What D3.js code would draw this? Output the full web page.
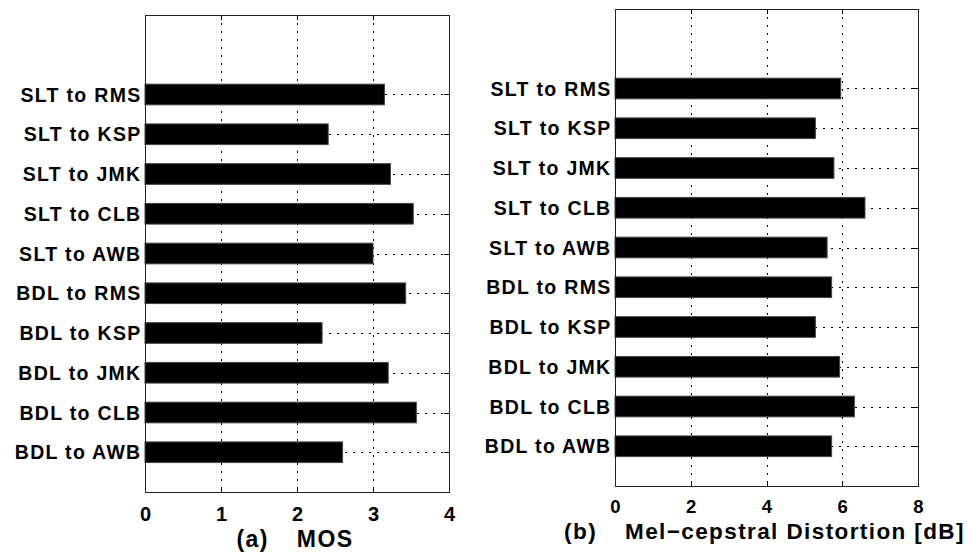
<!DOCTYPE html>
<html>
<head>
<meta charset="utf-8">
<script src="https://cdn.jsdelivr.net/npm/d3@7"></script>
<style>
  html, body { margin: 0; padding: 0; background: #fff; }
  svg { display: block; }
  text { font-family: "Liberation Sans", Arial, Helvetica, sans-serif; font-weight: bold; fill: #000; }
</style>
</head>
<body>
<svg id="chart" width="972" height="552"></svg>
<script>
const categories = ["SLT to RMS", "SLT to KSP", "SLT to JMK", "SLT to CLB", "SLT to AWB",
                    "BDL to RMS", "BDL to KSP", "BDL to JMK", "BDL to CLB", "BDL to AWB"];
const mosValues = [3.15, 2.41, 3.23, 3.53, 3.00, 3.43, 2.33, 3.20, 3.57, 2.60];
const mcdValues = [5.96, 5.29, 5.78, 6.60, 5.60, 5.72, 5.29, 5.93, 6.32, 5.72];
const mosTicks = [0, 1, 2, 3, 4];
const mcdTicks = [0, 2, 4, 6, 8];
const mosTitle = ["(a)", "MOS"];
const mcdTitle = ["(b)", "Mel\u2212cepstral Distortion [dB]"];

const svg = d3.select("#chart");

function drawPanel(p) {
  const x = d3.scaleLinear().domain([p.ticks[0], p.ticks[p.ticks.length - 1]]).range([p.left, p.right]);
  const y = d3.scaleLinear().domain([0, categories.length + 2]).range([p.bottom, p.top]);
  const pos = (d, i) => y(categories.length - i);
  const step = Math.abs(y(1) - y(0));
  const barH = step * 0.52;
  const g = svg.append("g");
  const dash = "2,6";

  // vertical grid lines
  g.selectAll("line.vg").data(p.ticks.slice(1, -1)).join("line")
    .attr("x1", d => Math.round(x(d)) + 0.5).attr("x2", d => Math.round(x(d)) + 0.5)
    .attr("y1", p.top).attr("y2", p.bottom)
    .attr("stroke", "#000").attr("stroke-width", 1).attr("stroke-dasharray", dash);

  // horizontal grid lines
  g.selectAll("line.hg").data(categories).join("line")
    .attr("x1", p.left).attr("x2", p.right)
    .attr("y1", (d, i) => Math.round(pos(d, i)) + 0.5).attr("y2", (d, i) => Math.round(pos(d, i)) + 0.5)
    .attr("stroke", "#000").attr("stroke-width", 1).attr("stroke-dasharray", dash);

  // bars
  g.selectAll("rect.bar").data(p.values).join("rect")
    .attr("x", x(0))
    .attr("y", (d, i) => pos(d, i) - barH / 2)
    .attr("width", d => x(d) - x(0))
    .attr("height", barH)
    .attr("fill", "#000").attr("stroke", "#444").attr("stroke-width", 1);

  // inner tick marks (x)
  const tl = 5;
  g.selectAll("line.xtb").data(p.ticks.slice(1, -1)).join("line")
    .attr("x1", d => Math.round(x(d)) + 0.5).attr("x2", d => Math.round(x(d)) + 0.5)
    .attr("y1", p.bottom).attr("y2", p.bottom - tl).attr("stroke", "#000");
  g.selectAll("line.xtt").data(p.ticks.slice(1, -1)).join("line")
    .attr("x1", d => Math.round(x(d)) + 0.5).attr("x2", d => Math.round(x(d)) + 0.5)
    .attr("y1", p.top).attr("y2", p.top + tl).attr("stroke", "#000");
  // inner tick marks (y, right side)
  g.selectAll("line.ytr").data(categories).join("line")
    .attr("x1", p.right).attr("x2", p.right - tl)
    .attr("y1", (d, i) => Math.round(pos(d, i)) + 0.5).attr("y2", (d, i) => Math.round(pos(d, i)) + 0.5)
    .attr("stroke", "#000");

  // frame
  g.append("rect")
    .attr("x", Math.round(p.left) + 0.5).attr("y", Math.round(p.top) + 0.5)
    .attr("width", Math.round(p.right - p.left)).attr("height", Math.round(p.bottom - p.top))
    .attr("fill", "none").attr("stroke", "#222").attr("stroke-width", 1);

  // category labels
  g.selectAll("text.cat").data(categories).join("text")
    .attr("x", p.left - 3.5)
    .attr("y", (d, i) => pos(d, i))
    .attr("dy", "0.36em")
    .attr("text-anchor", "end")
    .style("font-size", "19.5px")
    .style("letter-spacing", "1.3px")
    .text(d => d);

  // x-axis tick labels
  const ax = d3.axisBottom(x).tickValues(p.ticks).tickSize(0).tickPadding(0).tickFormat(d3.format("d"));
  const axg = g.append("g").attr("transform", `translate(0,${p.bottom})`).call(ax);
  axg.select(".domain").remove();
  axg.selectAll("text")
    .attr("y", p.tickY).attr("dy", 0)
    .style("font-family", "'Liberation Sans', Arial, sans-serif")
    .style("font-weight", "bold")
    .style("font-size", p.tickFont + "px")
    .attr("fill", "#000");

  // title
  const t = g.append("text")
    .attr("x", (p.left + p.right) / 2 - 2)
    .attr("y", p.titleY)
    .attr("text-anchor", "middle")
    .style("font-size", p.titleFont + "px")
    .style("letter-spacing", "1.4px");
  t.append("tspan").text(p.title[0]);
  t.append("tspan").attr("dx", 28).text(p.title[1]);
}

drawPanel({ left: 145, right: 449, top: 15, bottom: 492, ticks: mosTicks, values: mosValues,
            title: mosTitle, titleY: 547, tickFont: 20, tickY: 29, titleFont: 23 });
drawPanel({ left: 615, right: 918, top: 9, bottom: 486, ticks: mcdTicks, values: mcdValues,
            title: mcdTitle, titleY: 539, tickFont: 18.5, tickY: 27, titleFont: 22.5 });
</script>
</body>
</html>
